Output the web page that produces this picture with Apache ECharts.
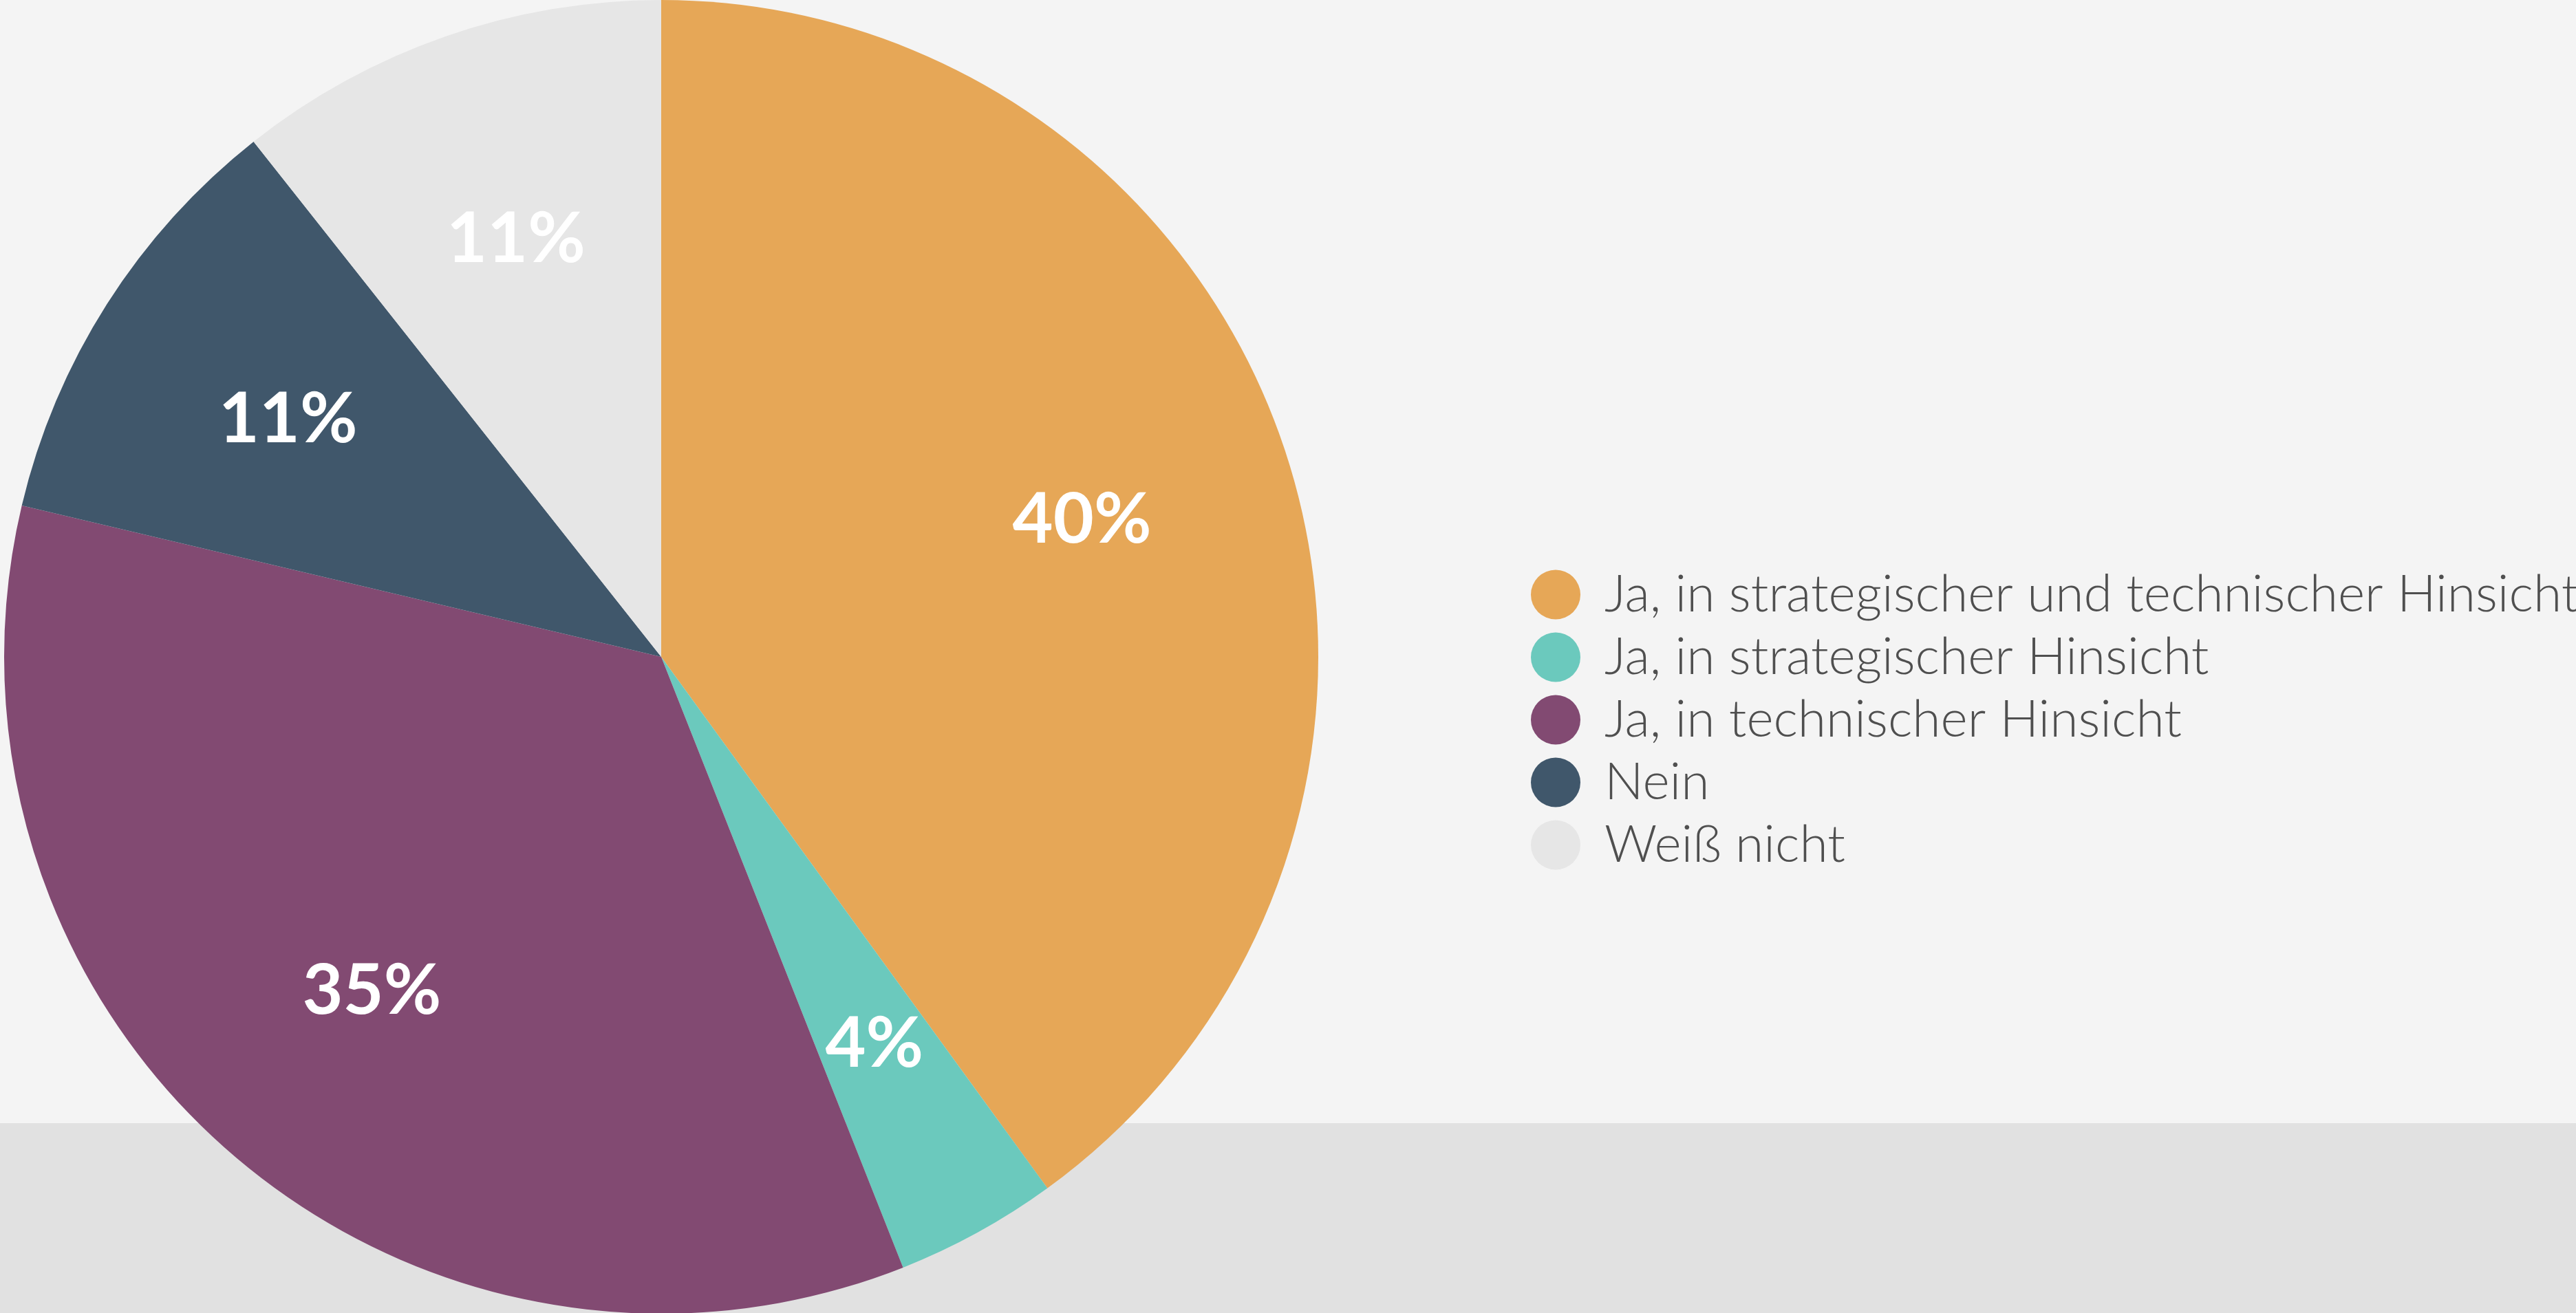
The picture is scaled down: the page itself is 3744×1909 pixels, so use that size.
<!DOCTYPE html>
<html>
<head>
<meta charset="utf-8">
<script src="https://cdn.jsdelivr.net/npm/echarts@6/dist/echarts.min.js"></script>
<style>
  html, body { margin: 0; padding: 0; background: #f4f4f4; }
  #pieChart { width: 3744px; height: 1909px; }
</style>
</head>
<body>
<div id="pieChart"></div>
<script>
const categories = [
  'Ja, in strategischer und technischer Hinsicht',
  'Ja, in strategischer Hinsicht',
  'Ja, in technischer Hinsicht',
  'Nein',
  'Weiß nicht',
]
const shares = [40, 4, 34.7, 10.65, 10.65]
const colors = ['#e6a757', '#6bc9bd', '#824a72', '#40576b', '#e6e6e6']

const pieData = categories.map((name, i) => ({ name: name, value: shares[i] }))

const chart = echarts.init(document.getElementById('pieChart'))

const option = {
  animation: false,
  backgroundColor: '#f4f4f4',
  color: colors,
  // lower grey band behind the pie
  graphic: [
    {
      type: 'rect',
      z: 0,
      shape: { x: 0, y: 1633, width: 3744, height: 276 },
      style: { fill: '#e1e1e1' },
    },
  ],
  legend: {
    orient: 'vertical',
    left: 2220,
    top: 822,
    icon: 'circle',
    itemWidth: 72,
    itemHeight: 72,
    itemGap: 16,
    selectedMode: false,
    data: categories,
    textStyle: {
      fontFamily: 'Lato',
      fontWeight: 300,
      fontSize: 75,
      lineHeight: 72,
      color: '#4f4f4f',
      padding: [0, 0, 0, 30],
    },
  },
  series: [
    {
      name: 'fill',
      type: 'pie',
      center: [961, 955],
      radius: [0, 955],
      startAngle: 90,
      clockwise: true,
      silent: true,
      label: { show: false },
      labelLine: { show: false },
      data: pieData,
    },
    {
      // transparent ring only used to place the percent labels further out
      name: 'labels',
      type: 'pie',
      center: [961, 955],
      radius: [325, 955],
      startAngle: 90,
      clockwise: true,
      silent: true,
      itemStyle: { color: 'rgba(0,0,0,0)' },
      label: {
        show: true,
        position: 'inside',
        fontFamily: 'Lato',
        fontWeight: 'bold',
        fontSize: 102,
        color: '#ffffff',
        formatter: function (params) {
          return Math.round(params.value) + '%'
        },
      },
      labelLine: { show: false },
      data: pieData,
    },
  ],
}

chart.setOption(option)
</script>
</body>
</html>
